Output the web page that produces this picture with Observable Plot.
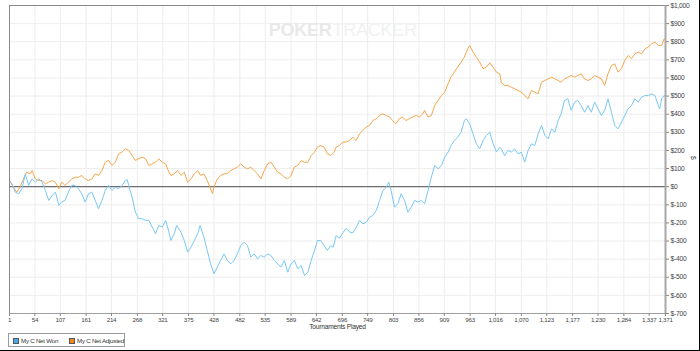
<!DOCTYPE html>
<html>
<head>
<meta charset="utf-8">
<script src="https://cdn.jsdelivr.net/npm/d3@7"></script>
<script src="https://cdn.jsdelivr.net/npm/@observablehq/plot@0.6"></script>
<style>
  body { margin: 0; background: #fff; }
  #wrap { position: relative; width: 700px; height: 351px; overflow: hidden; background: #fff; font-family: "Liberation Sans", Arial, sans-serif; }
  #chart svg text { letter-spacing: -0.25px; }
  #legend { position: absolute; left: 8px; top: 333px; width: 117px; height: 14px; border: 1px solid #9a9a9a; box-sizing: border-box; font-size: 6.2px; color: #333; letter-spacing: -0.25px; }
  #legend .item { position: absolute; top: 3px; white-space: nowrap; line-height: 7px; }
  #legend .sw { display: inline-block; width: 4px; height: 4px; border: 1px solid #555; vertical-align: -1px; margin-right: 2px; }
  .edge { position: absolute; background: #000; }
</style>
</head>
<body>
<div id="wrap">
  <div id="chart"></div>
  <div id="legend"></div>
  <div class="edge" style="right:0;top:0;width:1px;height:351px"></div>
  <div class="edge" style="left:0;bottom:0;width:700px;height:1px"></div>
</div>
<script>
// ---- data ----
const seriesNames = ["My C Net Won", "My C Net Adjusted"];
const seriesColors = ["#78c8f5", "#f6a64c"];

const xTicks = [1, 54, 107, 161, 214, 268, 321, 375, 428, 482, 535, 589, 642, 696, 749, 803, 856, 909, 963, 1016, 1070, 1123, 1177, 1230, 1284, 1337, 1371];
const yTicks = [-700, -600, -500, -400, -300, -200, -100, 0, 100, 200, 300, 400, 500, 600, 700, 800, 900, 1000];

const wonT = [1, 6, 13, 20, 27, 34, 41, 48, 55, 62, 69, 76, 83, 90, 97, 104, 110, 117, 124, 131, 138, 145, 152, 159, 166, 173, 180, 187, 194, 201, 208, 215, 222, 229, 236, 243, 247, 250, 257, 264, 271, 278, 285, 292, 299, 306, 313, 320, 327, 334,
  338, 345, 350, 359, 366, 373, 380, 387, 394, 399, 407, 414, 421, 428, 435, 442, 449, 456, 463, 470, 477, 484, 491, 498, 505, 512, 519, 526, 533, 540, 547, 554, 561, 568, 575, 582, 589, 596, 603, 610, 617, 624, 631, 638, 644, 651, 658, 665, 672, 677,
  683, 690, 697, 704, 711, 718, 725, 732, 739, 746, 753, 760, 767, 774, 781, 788, 793, 798, 805, 812, 819, 826, 833, 840, 847, 854, 861, 868, 875, 882, 889, 896, 903, 910, 917, 923, 930, 937, 944, 951, 955, 962, 969, 976, 983, 990, 997, 1004, 1011, 1018, 1025,
  1028, 1035, 1042, 1049, 1056, 1063, 1070, 1077, 1084, 1091, 1098, 1105, 1112, 1119, 1126, 1133, 1140, 1147, 1153, 1160, 1167, 1174, 1181, 1188, 1195, 1202, 1209, 1216, 1223, 1230, 1237, 1244, 1251, 1258, 1265, 1272, 1279, 1286, 1293, 1300, 1307, 1314, 1321, 1328, 1335, 1342, 1349, 1356, 1359, 1363, 1368, 1371];
const wonV = [30, 16, -30, -39, -12, 71, 7, 43, 25, 43, 25, -21, -76, -49, -30, -104, -85, -76, -30, 7, 7, -12, -39, -85, -39, -30, -76, -122, -76, -21, 7, -21, -3, -12, 7, 34, 38, 7, -58, -141, -177, -177, -186, -186, -223, -260, -214, -223, -186, -251,
  -297, -260, -214, -251, -297, -361, -334, -297, -260, -214, -279, -352, -426, -481, -444, -407, -371, -407, -426, -407, -371, -325, -306, -325, -389, -371, -398, -380, -389, -371, -380, -407, -426, -444, -407, -472, -426, -407, -453, -435, -490, -472, -407, -352, -297, -297, -325, -352, -325, -335,
  -270, -285, -255, -230, -250, -255, -225, -187, -205, -196, -168, -159, -131, -76, -21, -3, 25, -21, -113, -94, -39, -76, -141, -113, -76, -85, -76, -94, -21, 53, 117, 99, 117, 163, 191, 227, 255, 273, 301, 365, 375, 347, 292, 237, 209, 255, 282, 301, 237, 191, 218,
  209, 172, 200, 191, 209, 181, 191, 135, 200, 237, 227, 292, 338, 283, 264, 319, 301, 365, 402, 476, 485, 421, 467, 476, 448, 411, 448, 411, 467, 430, 393, 421, 485, 411, 338, 319, 356, 393, 430, 448, 485, 467, 494, 503, 503, 512, 503, 448, 430, 485, 503, 500];

const adjT = [1, 9, 16, 23, 30, 37, 44, 48, 55, 62, 69, 76, 83, 90, 97, 104, 110, 117, 124, 131, 138, 145, 152, 159, 166, 173, 180, 187, 194, 201, 208, 215, 222, 229, 236, 243, 250, 257, 264, 271, 278, 285, 292, 299, 306, 313, 320, 327, 334,
  338, 345, 352, 359, 366, 373, 380, 387, 394, 400, 407, 414, 421, 425, 428, 435, 442, 449, 456, 463, 470, 477, 484, 491, 498, 505, 512, 519, 526, 533, 540, 547, 554, 561, 568, 575, 582, 589, 596, 603, 610, 617, 624, 631, 638, 644, 651, 658, 665, 672, 679,
  683, 690, 697, 704, 711, 718, 725, 732, 739, 746, 753, 760, 767, 774, 781, 788, 795, 801, 808, 815, 822, 829, 836, 843, 850, 857, 864, 868, 875, 882, 889, 896, 903, 910, 917, 923, 930, 937, 944, 951, 958, 962, 969, 976, 983, 990, 997, 1004, 1011, 1018, 1025,
  1028, 1035, 1042, 1049, 1056, 1063, 1070, 1077, 1084, 1091, 1098, 1105, 1112, 1119, 1126, 1133, 1140, 1147, 1153, 1160, 1167, 1174, 1181, 1188, 1195, 1202, 1209, 1216, 1223, 1230, 1237, 1244, 1251, 1258, 1265, 1272, 1279, 1286, 1293, 1300, 1307, 1314, 1321, 1328, 1335, 1342, 1349, 1356, 1363, 1368, 1371];
const adjV = [34, -2, -30, -2, 43, 80, 71, 89, 43, 34, 34, 16, 25, 34, 25, -12, 25, 7, 25, 43, 52, 52, 62, 43, 34, 43, 71, 62, 89, 135, 145, 117, 135, 181, 191, 209, 200, 172, 145, 154, 163, 154, 117, 126, 135, 154, 135, 126, 80,
  62, 71, 89, 62, 80, 25, 43, 71, 89, 62, 71, 34, -12, -39, -2, 43, 62, 71, 71, 89, 98, 108, 126, 108, 98, 108, 89, 71, 43, 89, 126, 135, 108, 80, 71, 52, 43, 62, 108, 117, 144, 135, 135, 172, 191, 218, 227, 218, 181, 172, 191,
  218, 227, 246, 246, 255, 273, 255, 292, 310, 329, 338, 365, 375, 393, 402, 393, 384, 365, 347, 375, 384, 365, 375, 384, 393, 384, 402, 421, 384, 393, 448, 476, 503, 522, 568, 605, 632, 660, 687, 715, 761, 779, 743, 715, 687, 651, 660, 684, 660, 632, 623,
  575, 559, 559, 549, 540, 531, 522, 503, 485, 531, 522, 512, 577, 586, 595, 604, 595, 586, 577, 595, 604, 614, 604, 614, 623, 595, 586, 595, 614, 604, 595, 559, 623, 669, 678, 632, 651, 697, 724, 706, 733, 743, 733, 761, 770, 789, 798, 779, 779, 816, 810];

// ---- chart ----
const won = wonT.map((t, i) => ({t, v: wonV[i]}));
const adj = adjT.map((t, i) => ({t, v: adjV[i]}));
const fmtX = d3.format(",");
const fmtY = v => "$" + (v < 0 ? "-" : "") + d3.format(",")(Math.abs(v));

const chart = Plot.plot({
  width: 700,
  height: 333,
  marginLeft: 9,
  marginRight: 35,
  marginTop: 5,
  marginBottom: 20,
  style: {fontFamily: "'Liberation Sans', Arial, sans-serif", fontSize: "6.7px", color: "#444", background: "transparent"},
  x: {domain: [1, 1371], label: null},
  y: {domain: [-700, 1000], label: null},
  marks: [
    Plot.gridY(yTicks, {stroke: "#ededed", strokeOpacity: 1}),
    Plot.gridX(xTicks, {stroke: "#ededed", strokeOpacity: 1}),
    Plot.text(["POKER"], {frameAnchor: "top", dx: -6, dy: 18, textAnchor: "end", fontSize: 18, fontWeight: "bold", fill: "#e9e9e9"}),
    Plot.text(["TRACKER"], {frameAnchor: "top", dx: -5, dy: 18, textAnchor: "start", fontSize: 18, fill: "#f1f1f1"}),
    Plot.ruleY([0], {stroke: "#6e6e6e", strokeWidth: 1.2}),
    Plot.line(adj, {x: "t", y: "v", stroke: seriesColors[1], strokeWidth: 1}),
    Plot.line(won, {x: "t", y: "v", stroke: seriesColors[0], strokeWidth: 1}),
    Plot.ruleX([1], {stroke: "#8a8a8a"}),
    Plot.ruleY([1000], {stroke: "#8a8a8a"}),
    Plot.ruleY([-700], {stroke: "#a0a0a0"}),
    Plot.ruleX([1371], {stroke: "#a8a8a8", strokeWidth: 2}),
    Plot.axisY(yTicks, {anchor: "right", tickFormat: fmtY, tickSize: 3, tickPadding: 2, stroke: "#888", label: null}),
    Plot.axisX(xTicks, {anchor: "bottom", tickFormat: fmtX, tickSize: 3, tickPadding: 1, stroke: "#888", fontSize: 6.2, label: null}),
    Plot.text(["Tournaments Played"], {frameAnchor: "bottom", dy: 15, fill: "#333"}),
    Plot.text(["$"], {frameAnchor: "right", dx: 28, rotate: 90, fill: "#333"})
  ]
});
document.getElementById("chart").appendChild(chart);

const legend = document.getElementById("legend");
const lx = [4, 60];
const swFill = ["#4aa8e6", "#f08a1c"];
seriesNames.forEach((name, i) => {
  const it = document.createElement("div");
  it.className = "item";
  it.style.left = lx[i] + "px";
  it.innerHTML = `<span class="sw" style="background:${swFill[i]}"></span>${name}`;
  legend.appendChild(it);
});
</script>
</body>
</html>
